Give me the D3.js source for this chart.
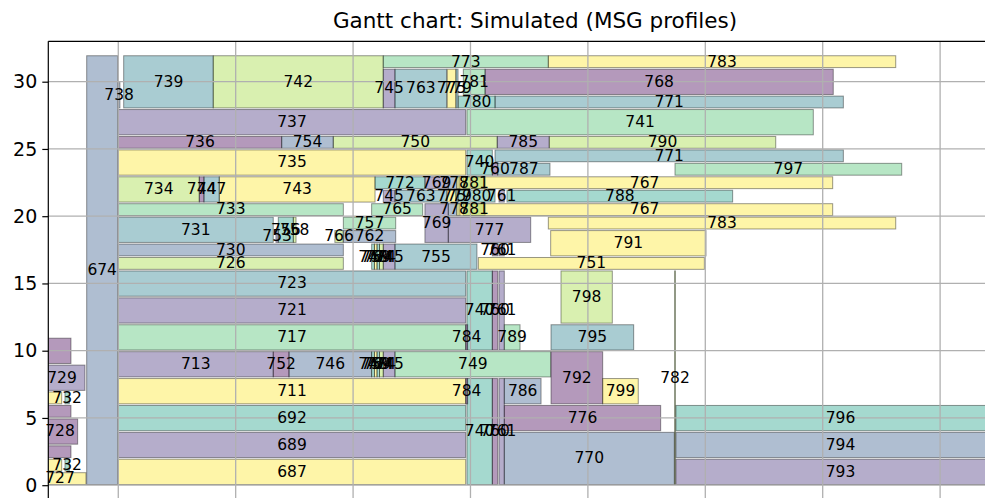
<!DOCTYPE html>
<meta charset="utf-8">
<style>
body { margin: 0; background: #fff; }
svg { display: block; font-family: "DejaVu Sans", sans-serif; }
</style>
<body>
<div id="chart"></div>
<script src="https://cdn.jsdelivr.net/npm/d3@7"></script>
<script>

var width = 985,
    height = 498;

var title = "Gantt chart: Simulated (MSG profiles)";
var yTicks = [0, 5, 10, 15, 20, 25, 30];
var xTicks = [100, 200, 300, 400, 500, 600, 700, 800];

// viridis resampled to 8 colours, picked by jobID % 8
var palette = ["#440154", "#46327e", "#365c8d", "#277f8e", "#1fa187", "#4ac16d", "#a0da39", "#fde725"];

// [jobID, start, finish, [[first resource, resource count], ...]] in drawing order
var jobs = [
    [674, 73.1, 99.5, [[0, 32]]],
    [687, 100, 395.9, [[0, 2]]],
    [689, 100, 395.9, [[2, 2]]],
    [692, 100, 395.9, [[4, 2]]],
    [711, 100, 395.9, [[6, 2]]],
    [713, 100, 232.0, [[8, 2]]],
    [717, 100, 395.9, [[10, 2]]],
    [719, -150, 51.8, [[1, 1], [6, 1]]],
    [720, -150, 59.7, [[2, 1], [5, 1], [9, 2]]],
    [721, 100, 395.9, [[12, 2]]],
    [723, 100, 395.9, [[14, 2]]],
    [726, 100, 291.7, [[16, 1]]],
    [727, 28.2, 72.5, [[0, 1]]],
    [728, 35.3, 65.4, [[3, 2]]],
    [729, 32.5, 71.6, [[7, 2]]],
    [730, 100, 291.7, [[17, 1]]],
    [731, 100, 232.0, [[18, 2]]],
    [732, 54.6, 58.3, [[1, 1], [6, 1]]],
    [733, 100, 291.7, [[20, 1]]],
    [734, 100, 169.0, [[21, 2]]],
    [735, 100, 395.9, [[23, 2]]],
    [736, 100, 239.2, [[25, 1]]],
    [737, 100, 395.9, [[26, 2]]],
    [738, 100, 101.4, [[28, 2]]],
    [739, 104.6, 180.9, [[28, 4]]],
    [740, 397.0, 418.6, [[0, 8], [10, 6], [23, 2]]],
    [741, 397.0, 692.0, [[26, 2]]],
    [742, 180.9, 325.7, [[28, 4]]],
    [743, 186.0, 318.7, [[21, 2]]],
    [744, 169.0, 173.0, [[21, 2]]],
    [745, 325.7, 335.7, [[8, 2], [16, 2], [21, 1], [28, 3]]],
    [746, 245.4, 315.8, [[8, 2]]],
    [747, 173.0, 186.0, [[21, 2]]],
    [748, 315.8, 318.2, [[8, 2], [16, 2]]],
    [749, 335.7, 468.3, [[8, 2]]],
    [750, 283.1, 422.8, [[25, 1]]],
    [751, 406.7, 599.2, [[16, 1]]],
    [752, 232.0, 245.4, [[8, 2]]],
    [753, 234.3, 236.3, [[18, 1]]],
    [754, 239.2, 283.1, [[25, 1]]],
    [755, 335.7, 405.5, [[16, 2]]],
    [756, 236.3, 249.1, [[18, 2]]],
    [757, 291.7, 336.3, [[19, 1]]],
    [758, 249.1, 251.4, [[18, 2]]],
    [759, 318.2, 320.4, [[8, 2], [16, 2]]],
    [760, 418.6, 423.2, [[0, 8], [10, 6], [17, 1], [23, 1]]],
    [761, 424.3, 428.8, [[0, 8], [10, 6], [17, 1], [21, 1]]],
    [762, 291.7, 336.3, [[18, 1]]],
    [763, 335.7, 379.7, [[21, 1], [28, 3]]],
    [764, 320.4, 322.5, [[8, 2], [16, 2]]],
    [765, 315.8, 359.3, [[20, 1]]],
    [766, 284.5, 291.5, [[18, 1]]],
    [768, 412.4, 709.0, [[29, 2]]],
    [769, 361.2, 381.1, [[18, 3], [22, 1]]],
    [770, 428.8, 573.6, [[0, 4]]],
    [771, 420.9, 717.6, [[24, 1], [28, 1]]],
    [772, 318.7, 361.2, [[22, 1]]],
    [773, 325.7, 466.3, [[31, 1]]],
    [774, 322.5, 325.7, [[8, 2], [16, 2]]],
    [775, 380.2, 387.6, [[21, 1], [28, 3]]],
    [776, 428.8, 562.0, [[4, 2]]],
    [777, 381.1, 451.3, [[18, 2]]],
    [778, 381.1, 391.1, [[20, 1], [22, 1]]],
    [779, 387.6, 389.4, [[21, 1], [28, 3]]],
    [780, 389.6, 420.9, [[21, 1], [28, 1]]],
    [781, 393.9, 412.4, [[20, 1], [22, 1], [29, 2]]],
    [767, 388.1, 708.5, [[20, 1], [22, 1]]],
    [782, 573.8, 574.6, [[0, 16]]],
    [783, 466.3, 762.2, [[19, 1], [31, 1]]],
    [784, 395.9, 397.6, [[6, 2], [10, 2]]],
    [785, 422.8, 467.1, [[25, 1]]],
    [786, 428.8, 460.1, [[6, 2]]],
    [787, 423.2, 467.7, [[23, 1]]],
    [788, 431.1, 623.3, [[21, 1]]],
    [789, 428.8, 442.2, [[10, 2]]],
    [790, 467.1, 660.0, [[25, 1]]],
    [791, 468.3, 600.6, [[17, 2]]],
    [792, 468.6, 512.6, [[6, 4]]],
    [793, 575.0, 855.3, [[0, 2]]],
    [794, 575.0, 855.3, [[2, 2]]],
    [795, 468.6, 539.0, [[10, 2]]],
    [796, 575.0, 855.3, [[4, 2]]],
    [797, 574.2, 767.3, [[23, 1]]],
    [798, 477.1, 520.8, [[12, 4]]],
    [799, 512.6, 542.9, [[6, 2]]]
];

var x = d3.scaleLinear().domain([40.4, 869.5]).range([48.3, 1021.7]);
var y = d3.scaleLinear().domain([-1, 33]).range([498.65, 41.35]);

var svg = d3.select("#chart").append("svg")
    .attr("width", width)
    .attr("height", height);

svg.append("defs").append("clipPath")
    .attr("id", "plot")
  .append("rect")
    .attr("x", x.range()[0])
    .attr("y", y.range()[1])
    .attr("width", x.range()[1] - x.range()[0])
    .attr("height", y.range()[0] - y.range()[1]);

// one rectangle per contiguous resource interval
var pieces = [];
jobs.forEach(function(j) {
    j[3].forEach(function(itv) {
        pieces.push({id: j[0], start: j[1], end: j[2], r: itv[0], n: itv[1]});
    });
});

var plot = svg.append("g").attr("clip-path", "url(#plot)");

plot.selectAll("rect.job")
    .data(pieces)
  .enter().append("rect")
    .attr("class", "job")
    .attr("x", function(d) { return x(d.start); })
    .attr("width", function(d) { return Math.max(0.3, x(d.end) - x(d.start)); })
    .attr("y", function(d) { return y(d.r + d.n - 0.07); })
    .attr("height", function(d) { return y(d.r + 0.05) - y(d.r + d.n - 0.07); })
    .attr("fill", function(d) { return palette[d.id % 8]; })
    .attr("fill-opacity", 0.4)
    .attr("stroke", "#000")
    .attr("stroke-opacity", 0.4)
    .attr("stroke-width", 1);

// grid above the bars, like matplotlib
plot.selectAll("line.xgrid")
    .data(xTicks)
  .enter().append("line")
    .attr("x1", function(d) { return x(d); })
    .attr("x2", function(d) { return x(d); })
    .attr("y1", y.range()[1])
    .attr("y2", y.range()[0])
    .attr("stroke", "#b0b0b0")
    .attr("stroke-width", 1.3);

plot.selectAll("line.ygrid")
    .data(yTicks)
  .enter().append("line")
    .attr("x1", x.range()[0])
    .attr("x2", x.range()[1])
    .attr("y1", function(d) { return y(d); })
    .attr("y2", function(d) { return y(d); })
    .attr("stroke", "#b0b0b0")
    .attr("stroke-width", 1.3);

// y axis (the x axis labels sit below the visible area in the reference)
var yAxis = d3.axisLeft(y).tickValues(yTicks).tickSize(6).tickPadding(5);
var gy = svg.append("g")
    .attr("transform", "translate(" + x.range()[0] + ",0)")
    .call(yAxis);
gy.select(".domain").remove();
gy.selectAll("text")
    .style("font-family", "'DejaVu Sans', sans-serif")
    .style("font-size", "19px")
    .attr("fill", "#000");
gy.selectAll("line").attr("stroke", "#000").attr("stroke-width", 1.2);

// spines
svg.append("line")
    .attr("x1", x.range()[0]).attr("x2", x.range()[0])
    .attr("y1", y.range()[1]).attr("y2", y.range()[0])
    .attr("stroke", "#000").attr("stroke-width", 1.2);
svg.append("line")
    .attr("x1", x.range()[0]).attr("x2", x.range()[1])
    .attr("y1", y.range()[1]).attr("y2", y.range()[1])
    .attr("stroke", "#000").attr("stroke-width", 1.2);

// job labels on top of everything; labels centred left of the axes are not shown
svg.selectAll("text.lbl")
    .data(pieces.filter(function(d) { return x((d.start + d.end) / 2) > x.range()[0]; }))
  .enter().append("text")
    .attr("class", "lbl")
    .attr("x", function(d) { return x((d.start + d.end) / 2); })
    .attr("y", function(d) { return y(d.r + d.n / 2); })
    .attr("text-anchor", "middle")
    .attr("dominant-baseline", "central")
    .style("font-size", "15.5px")
    .attr("fill", "#000")
    .text(function(d) { return d.id; });

svg.append("text")
    .attr("x", (x.range()[0] + x.range()[1]) / 2)
    .attr("y", 28)
    .attr("text-anchor", "middle")
    .style("font-size", "21.5px")
    .attr("fill", "#000")
    .text(title);

</script>
